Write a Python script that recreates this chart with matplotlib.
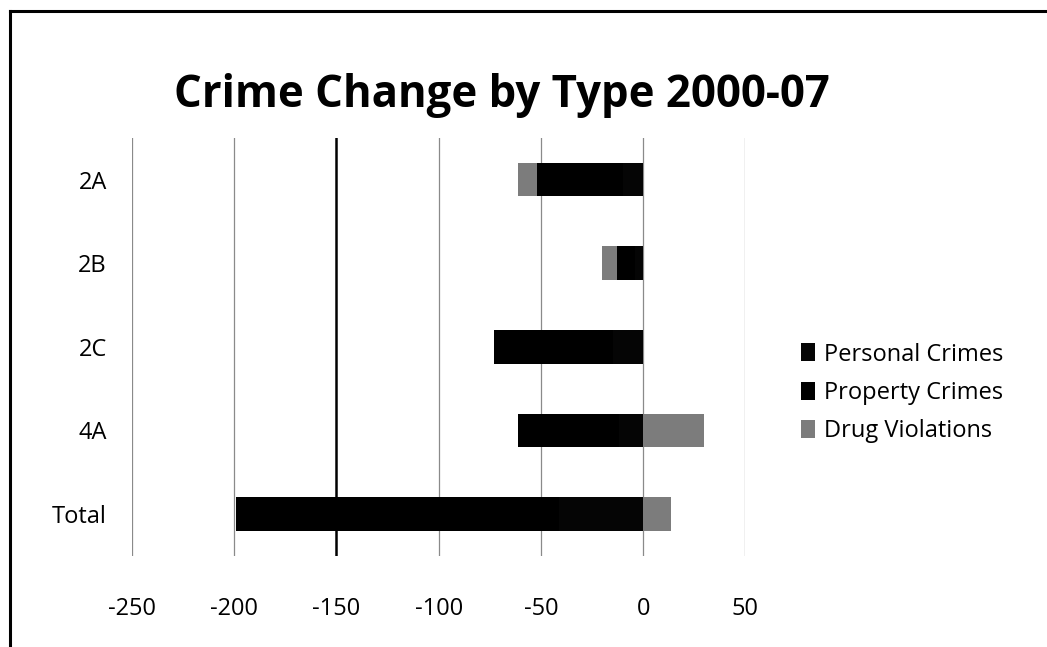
import matplotlib.pyplot as plt
import numpy as np

# change in crime counts 2000-07, by area
areas = ["2A", "2B", "2C", "4A", "Total"]
personal = [-10, -4, -15, -12, -41]
property_ = [-42, -9, -58, -49, -158]
drug = [-9, -7, 0, 29.5, 13.5]

series = [("Personal Crimes", personal, "#050505"),
          ("Property Crimes", property_, "#000000"),
          ("Drug Violations", drug, "#7c7c7c")]

plt.rcParams['font.family'] = ['Open Sans', 'DejaVu Sans']
plt.rcParams['axes.unicode_minus'] = False

fig = plt.figure(figsize=(10.47, 6.47), dpi=100)
ax = fig.add_axes([0.126, 0.141, 0.586, 0.646])

y = np.arange(len(areas))
pos_base = np.zeros(len(areas))
neg_base = np.zeros(len(areas))
for name, vals, col in series:
    vals = np.array(vals, dtype=float)
    left = np.where(vals < 0, neg_base, pos_base)
    ax.barh(y, vals, left=left, height=0.4, color=col, label=name, zorder=3)
    neg_base += np.minimum(vals, 0)
    pos_base += np.maximum(vals, 0)

ax.set_xlim(-250, 50)
ax.set_ylim(len(areas) - 0.5, -0.5)
ax.set_xticks(np.arange(-250, 51, 50))
ax.set_yticks(y)
ax.set_yticklabels(areas)
ax.tick_params(axis='x', length=0, pad=30, labelsize=17)
ax.tick_params(axis='y', length=0, pad=18, labelsize=17)
for s in ax.spines.values():
    s.set_visible(False)

for xv in np.arange(-250, 51, 50):
    if xv == -150:
        ax.axvline(xv, color="#000000", lw=1.8, zorder=1)
    else:
        ax.axvline(xv, color="#8a8a8a", lw=0.9, zorder=1)

fig.text(0.479, 0.853, "Crime Change by Type 2000-07", ha="center", va="center",
         fontsize=31.5, fontweight="bold")

ax.legend(loc="center left", bbox_to_anchor=(1.09, 0.39), frameon=False,
          fontsize=17, handlelength=0.6, handleheight=0.8,
          handletextpad=0.4, labelspacing=0.6, borderpad=0, borderaxespad=0)

# outer frame: top and left edges
fig.add_artist(plt.Line2D([0.0098, 1.0], [0.983, 0.983], color="black", lw=2.2,
                          transform=fig.transFigure))
fig.add_artist(plt.Line2D([0.0098, 0.0098], [0.0, 0.983], color="black", lw=2.2,
                          transform=fig.transFigure))

fig.savefig("out.png", dpi=100)
